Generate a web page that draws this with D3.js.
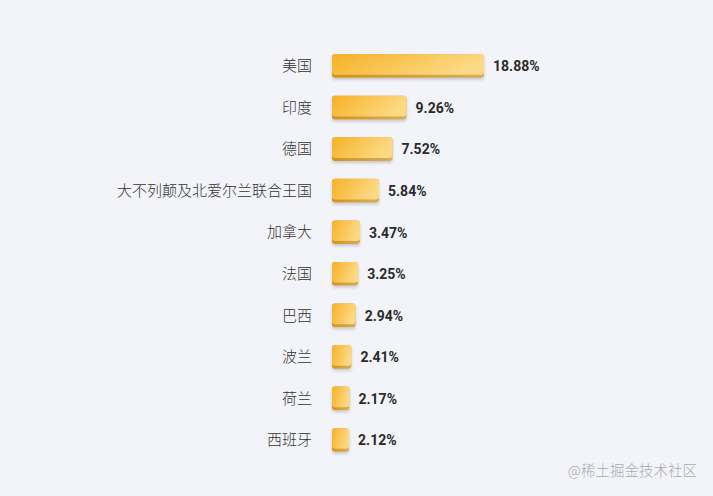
<!DOCTYPE html>
<html><head><meta charset="utf-8">
<script src="https://cdn.jsdelivr.net/npm/d3@7"></script>
<style>
html,body{margin:0;padding:0;background:#f3f4fa;}
svg{display:block;}
</style></head>
<body>
<svg id="chart" width="713" height="496"></svg>
<script>
const categories = ["美国","印度","德国","大不列颠及北爱尔兰联合王国","加拿大","法国","巴西","波兰","荷兰","西班牙"];
const values = [18.88, 9.26, 7.52, 5.84, 3.47, 3.25, 2.94, 2.41, 2.17, 2.12];
const watermark = "@稀土掘金技术社区";

const svg = d3.select("#chart");
const W = 713, H = 496;
svg.append("rect").attr("width", W).attr("height", H).attr("fill", "#f3f4fa");

const x = d3.scaleLinear().domain([0, 18.88]).range([332, 484]);
const y = d3.scaleBand().domain(categories).range([45.2, 460.8]).paddingInner(0.43).paddingOuter(0.215);

const defs = svg.append("defs");
const grad = defs.append("linearGradient").attr("id", "barGrad").attr("x1", "0").attr("x2", "1").attr("y1", "0").attr("y2", "0.3");
grad.append("stop").attr("offset", "0%").attr("stop-color", "#f6b126");
grad.append("stop").attr("offset", "100%").attr("stop-color", "#fcd984");
const gradB = defs.append("linearGradient").attr("id", "edgeGrad").attr("x1", "0").attr("x2", "1");
gradB.append("stop").attr("offset", "0%").attr("stop-color", "#d3931c");
gradB.append("stop").attr("offset", "100%").attr("stop-color", "#d6ad5c");
const filt = defs.append("filter").attr("id", "shadow").attr("x", "-20%").attr("y", "-30%").attr("width", "140%").attr("height", "180%");
filt.append("feDropShadow").attr("dx", 0).attr("dy", 2).attr("stdDeviation", 1.5).attr("flood-color", "#000").attr("flood-opacity", 0.18);

const rows = svg.append("g").selectAll("g").data(categories).join("g");

rows.append("rect")
  .attr("x", x(0))
  .attr("y", d => y(d))
  .attr("width", (d, i) => x(values[i]) - x(0))
  .attr("height", y.bandwidth())
  .attr("rx", 3)
  .attr("fill", "url(#edgeGrad)")
  .attr("filter", "url(#shadow)");

rows.append("rect")
  .attr("x", x(0))
  .attr("y", d => y(d))
  .attr("width", (d, i) => x(values[i]) - x(0))
  .attr("height", y.bandwidth() - 3)
  .attr("rx", 3)
  .attr("fill", "url(#barGrad)");

rows.append("text")
  .attr("x", 312)
  .attr("y", d => y(d) + y.bandwidth() / 2)
  .attr("dy", "0.35em")
  .attr("text-anchor", "end")
  .attr("font-family", "'Noto Sans CJK SC', sans-serif")
  .attr("font-size", 15)
  .attr("font-weight", 300)
  .attr("fill", "#333")
  .text(d => d);

rows.append("text")
  .attr("x", (d, i) => x(values[i]) + 9)
  .attr("y", d => y(d) + y.bandwidth() / 2)
  .attr("dy", "0.38em")
  .attr("font-family", "Roboto, 'Noto Sans', sans-serif")
  .attr("font-weight", "bold")
  .attr("font-size", 14)
  .attr("fill", "#2b2b2b")
  .text((d, i) => values[i].toFixed(2) + "%");

svg.append("text")
  .attr("x", 697).attr("y", 476)
  .attr("text-anchor", "end")
  .attr("font-family", "'Noto Sans CJK SC', sans-serif")
  .attr("font-size", 14.5)
  .attr("font-weight", 300)
  .attr("fill", "#a9abb2")
  .text(watermark);
</script>
</body></html>
